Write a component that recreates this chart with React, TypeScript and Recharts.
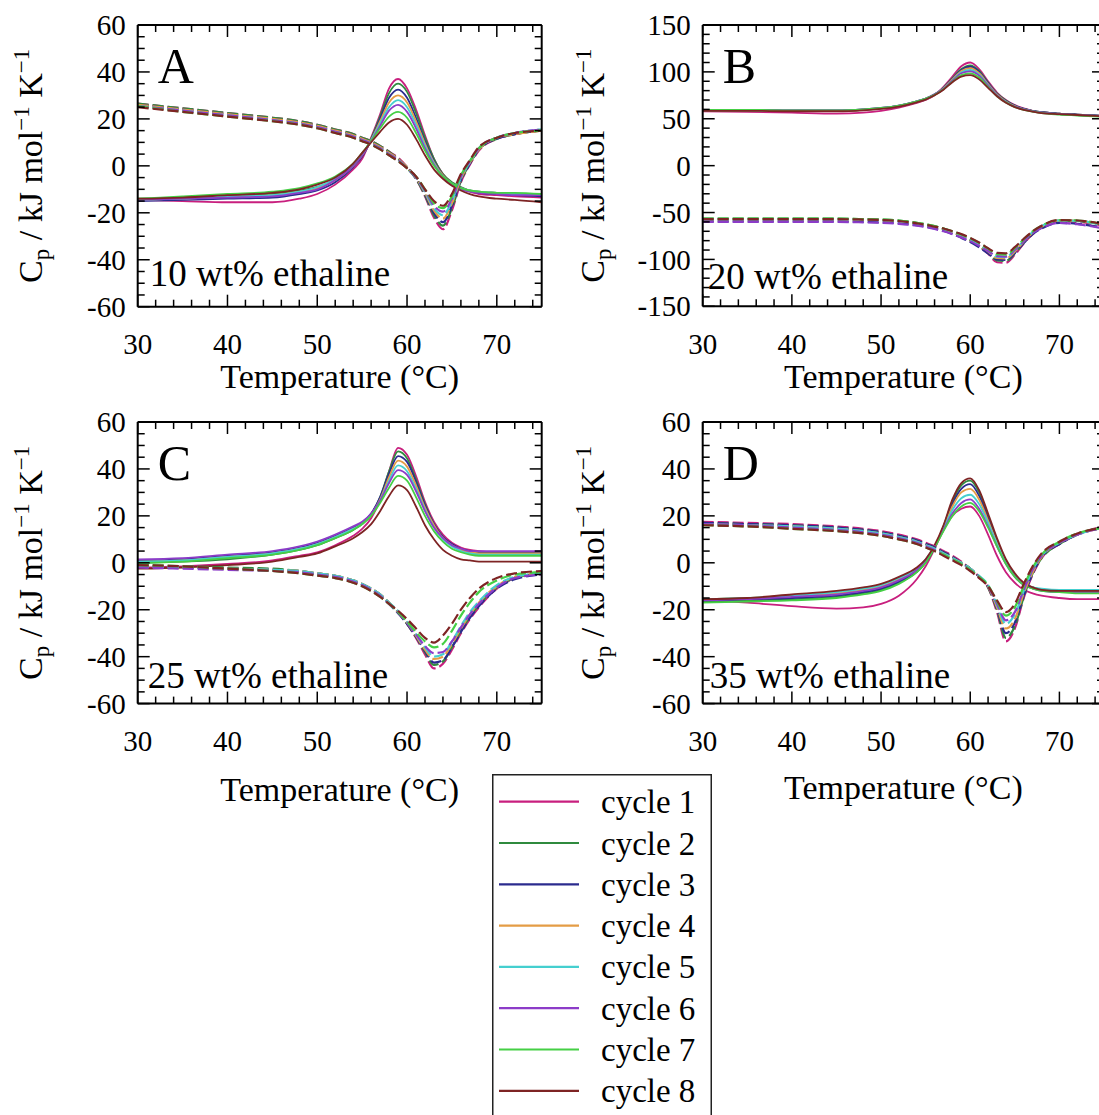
import React from 'react';
import { LineChart, Line, XAxis, YAxis } from 'recharts';

// ---------------- data ----------------
const temperature = [30, 35, 40, 45, 48, 50, 52, 54, 55, 56, 57, 58, 59, 60, 61, 62, 63, 64, 65, 66, 67, 68, 70, 72, 75];

const cycleNames = ['cycle 1', 'cycle 2', 'cycle 3', 'cycle 4', 'cycle 5', 'cycle 6', 'cycle 7', 'cycle 8'];
const cycleColors = ['#C81F7E', '#2F8A3E', '#2B2B8E', '#E49C45', '#45CFCF', '#8C3CC8', '#45CF45', '#7E2424'];

const xTickValues = [30, 32, 34, 36, 38, 40, 42, 44, 46, 48, 50, 52, 54, 56, 58, 60, 62, 64, 66, 68, 70, 72, 74];
const yTicks60 = [-60, -55, -50, -45, -40, -35, -30, -25, -20, -15, -10, -5, 0, 5, 10, 15, 20, 25, 30, 35, 40, 45, 50, 55, 60];
const yTicks150 = [-150, -140, -130, -120, -110, -100, -90, -80, -70, -60, -50, -40, -30, -20, -10, 0, 10, 20, 30, 40, 50, 60, 70, 80, 90, 100, 110, 120, 130, 140, 150];

// Panel A: 10 wt% ethaline
const panelA_heating = [
  [-14.5, -15, -15.5, -15.5, -14, -12, -8, -1.5, 3, 12, 22, 33, 37, 33, 24, 13, 3, -3.5, -7.5, -9.5, -11, -12, -12.5, -13, -13.5],
  [-14, -13.5, -12.5, -12, -10.5, -9, -6, 0, 4.5, 11.5, 21, 31, 35, 31.5, 22.5, 12, 3, -3.5, -7, -9, -10.5, -11, -11.5, -12, -12.5],
  [-15, -14.5, -14, -13.5, -12, -10.5, -7, -0.5, 4, 11, 20, 29, 32.5, 29, 20.5, 10.5, 2, -4, -7.5, -9.5, -10.5, -11.5, -12, -12.5, -13],
  [-14.5, -14, -13, -12.5, -11, -9.5, -6, 0, 4.5, 11, 19, 27, 30, 27, 19, 9.5, 1.5, -4, -7.5, -9.5, -10.5, -11, -11.5, -12, -12.5],
  [-14.5, -14, -13, -12.5, -11, -9, -5.5, 0.5, 5, 11, 18, 25, 28, 25, 17.5, 8.5, 1, -4.5, -7.5, -9.5, -10.5, -11, -11.5, -12, -12],
  [-14.5, -14, -13.5, -13, -11.5, -10, -6, 0, 4.5, 10.5, 17, 23.5, 26, 23, 16, 7.5, 0.5, -4.5, -8, -10, -11, -11.5, -12, -12.5, -12.5],
  [-14, -13, -12, -11, -9.5, -7.5, -4.5, 1, 5.5, 10.5, 16, 21, 23, 20.5, 14, 6.5, 0, -4.5, -7.5, -9.5, -10.5, -11, -11.5, -11.5, -12],
  [-14, -13.5, -12.5, -11.5, -10, -8, -5, 1, 5.5, 10, 14.5, 18.5, 20, 17.5, 11.5, 4.5, -1.5, -5.5, -8.5, -10.5, -12, -13, -14, -14.5, -15.5],
];
const panelA_cooling = [
  [26.5, 24.5, 22.5, 20.5, 19, 17.5, 15.5, 13.5, 12, 10.5, 8.5, 6, 3.5, -0.5, -5.5, -13, -22, -27, -19, -7, 0.5, 6.5, 11.5, 13.5, 15],
  [26.5, 24.5, 22.5, 20.5, 19, 17.5, 15.5, 13.5, 12, 10.5, 8.5, 6, 3, -1, -5.5, -12.5, -21, -25.5, -18, -6.5, 1, 7, 11.5, 13.5, 15],
  [26, 24, 22, 20, 18.5, 17, 15, 13, 11.5, 10, 8, 5.5, 3, -0.5, -5, -12, -20, -24, -17, -6, 1, 7, 11.5, 13.5, 15],
  [26, 24, 22, 20, 18.5, 17, 15, 13, 11.5, 10, 8, 5.5, 3, -0.5, -5, -11.5, -19, -22.5, -16, -5.5, 1.5, 7, 12, 13.5, 15],
  [25.5, 23.5, 21.5, 19.5, 18, 16.5, 14.5, 12.5, 11, 9.5, 7.5, 5, 2.5, -1, -5, -11, -18, -21, -15, -5, 1.5, 7.5, 12, 14, 15.5],
  [25.5, 23.5, 21.5, 19.5, 18, 16.5, 14.5, 12.5, 11, 9.5, 7.5, 5, 2.5, -1, -5, -10.5, -17, -19.5, -14, -4.5, 2, 7.5, 12, 14, 15.5],
  [25.5, 23, 21, 19, 17.5, 16, 14, 12, 10.5, 9, 7, 4.5, 2, -1, -4.5, -10, -16, -18, -13, -4, 2, 7.5, 12, 14, 15],
  [25, 23, 21, 19, 17.5, 16, 14, 12, 10.5, 9, 7, 4.5, 2, -1, -4.5, -10, -15, -17, -12, -3.5, 2.5, 8, 12, 14, 15],
];

// Panel B: 20 wt% ethaline
const panelB_heating = [
  [58, 57.5, 56.5, 55.5, 56.5, 58.5, 62, 67, 70, 75, 84, 95, 106, 110, 103, 90, 78, 70, 64.5, 61, 58.5, 57, 55.5, 54.5, 53],
  [59, 59, 58.5, 58.5, 59.5, 61, 63.5, 68, 71, 75.5, 83, 93, 103, 107, 101, 88.5, 77, 69.5, 64, 60.5, 58.5, 57, 55.5, 54.5, 53],
  [59.5, 59.5, 59, 59, 60, 61.5, 64, 68.5, 71.5, 76, 83, 92.5, 102, 105.5, 100, 88, 76.5, 69, 64, 60.5, 58.5, 57, 55.5, 54.5, 53],
  [59, 59, 58.5, 58.5, 59.5, 61, 63.5, 68, 71, 75.5, 82.5, 92, 101, 104, 98.5, 87, 76, 68.5, 63.5, 60, 58, 56.5, 55, 54, 52.5],
  [59, 59, 58.5, 58.5, 59.5, 61, 63.5, 68, 71, 75.5, 82, 91, 99.5, 102, 97, 86, 75, 68, 63, 60, 58, 56.5, 55, 54, 52.5],
  [59.5, 59.5, 59, 59, 60, 61.5, 64, 68.5, 71.5, 76, 82, 90.5, 98.5, 100.5, 96, 85.5, 75, 68, 63, 60, 58, 56.5, 55, 54, 52.5],
  [59.5, 59.5, 59, 59, 60, 61.5, 64, 68.5, 71.5, 75.5, 81.5, 89.5, 96.5, 98.5, 94, 84, 74, 67.5, 62.5, 59.5, 57.5, 56, 54.5, 53.5, 52],
  [58.5, 58.5, 58, 58, 59, 60.5, 63, 67.5, 70.5, 75, 81, 89, 95, 96.5, 92, 83, 74, 67, 62.5, 59.5, 57.5, 56, 55, 54, 52.5],
];
const panelB_cooling = [
  [-57, -57, -57, -57, -57.5, -58, -59, -61.5, -63, -65, -67.5, -71, -75, -80, -86, -94, -103, -103.5, -95, -83, -73, -66, -59.5, -60, -64],
  [-56.5, -56.5, -56.5, -56.5, -57, -57.5, -58.5, -61, -62.5, -64.5, -67, -70.5, -74.5, -79.5, -85.5, -93, -101, -101.5, -93.5, -82, -72, -65, -58.5, -59, -63],
  [-59.5, -59.5, -59.5, -59.5, -60, -60.5, -61.5, -63.5, -65, -67, -69.5, -73, -77, -81.5, -87, -93.5, -100, -100.5, -93, -82.5, -73, -67, -61, -62, -66.5],
  [-57, -57, -57, -57, -57.5, -58, -59, -61.5, -63, -65, -67.5, -71, -74.5, -79, -84.5, -91.5, -98.5, -99, -91.5, -81, -71.5, -65, -58.5, -59, -63.5],
  [-57, -57, -57, -57, -57.5, -58, -59, -61.5, -63, -65, -67.5, -70.5, -74, -78.5, -84, -90.5, -97, -97.5, -90, -80, -71, -64.5, -58.5, -59, -63.5],
  [-60, -60, -60, -60, -60.5, -61, -62, -64, -65.5, -67.5, -70, -73, -76.5, -80.5, -85.5, -91, -96.5, -97, -90, -80.5, -72, -66.5, -61, -62.5, -67],
  [-56.5, -56.5, -56.5, -56.5, -57, -57.5, -58.5, -61, -62.5, -64.5, -67, -70, -73.5, -77.5, -82.5, -88.5, -94.5, -95, -88, -78.5, -70, -64, -58, -58.5, -62.5],
  [-57, -57, -57, -57, -57.5, -58, -59, -61.5, -63, -65, -67, -70, -73, -77, -82, -88, -93, -93.5, -87, -78, -70, -64, -58, -58.5, -62.5],
];

// Panel C: 25 wt% ethaline
const panelC_heating = [
  [-2, -1.5, -0.5, 1, 3, 4.5, 7.5, 11.5, 14.5, 19, 27, 39, 49, 46, 37, 26, 17.5, 12, 8.5, 6.5, 5.5, 5, 4.5, 4.5, 4.5],
  [0, 0.5, 1.5, 3.5, 5.5, 7.5, 10.5, 14, 16.5, 20.5, 28, 39, 47.5, 44.5, 35.5, 25, 16.5, 11, 7.5, 5.5, 4.5, 4, 3.5, 3.5, 3.5],
  [1, 1.5, 3, 4.5, 6.5, 8.5, 11.5, 15, 17, 21, 28, 38, 45.5, 43, 34.5, 24.5, 16.5, 11, 8, 6, 5, 4.5, 4.5, 4.5, 4.5],
  [0.5, 1, 2.5, 4, 6, 8, 11, 14.5, 16.5, 20.5, 27, 36.5, 43.5, 41, 33, 23.5, 16, 10.5, 7.5, 5.5, 4.5, 4, 4, 4, 4],
  [0.5, 1, 2.5, 4, 6, 8, 11, 14.5, 16.5, 20.5, 26.5, 35, 41.5, 39, 31.5, 22.5, 15, 10, 7, 5, 4, 3.5, 3.5, 3.5, 3.5],
  [1.5, 2, 3.5, 5, 7, 9, 12, 15.5, 17.5, 21, 26.5, 34, 39.5, 37.5, 30.5, 22, 15, 10.5, 7.5, 6, 5, 5, 5, 5, 5],
  [0, 0.5, 2, 3.5, 5.5, 7.5, 10.5, 14, 16.5, 20, 25.5, 32, 37, 35, 28, 20, 13.5, 9, 6, 4.5, 3.5, 3, 3, 3, 3],
  [-2.5, -2, -1, 0.5, 2.5, 4, 7, 10.5, 13, 16.5, 22, 28.5, 33, 31, 24, 16, 10, 5.5, 3, 1.5, 1, 0.5, 0.5, 0.5, 0.5],
];
const panelC_cooling = [
  [-1.5, -2, -2.5, -3, -3.5, -4.5, -5.5, -7.5, -9, -11, -13.5, -17, -21, -26, -32, -39, -45, -43, -37, -30, -24, -19, -11, -6.5, -4.5],
  [-1, -1.5, -2, -2.5, -3.5, -4.5, -5.5, -7.5, -9, -11, -13.5, -17, -21, -26, -31.5, -38, -43.5, -42, -36, -29, -23, -18, -10.5, -6.5, -4.5],
  [-1.5, -2, -2.5, -3, -4, -5, -6, -8, -9.5, -11.5, -14, -17.5, -21.5, -26, -31.5, -37.5, -42.5, -41.5, -36, -29.5, -23.5, -18.5, -11, -7, -5],
  [-1.5, -2, -2.5, -3, -3.5, -4.5, -5.5, -7.5, -9, -11, -13.5, -17, -21, -25.5, -31, -37, -41, -40, -34.5, -28, -22, -17, -10, -6, -4.5],
  [-1.5, -2, -2.5, -3, -3.5, -4.5, -5.5, -7.5, -9, -11, -13.5, -17, -20.5, -25, -30.5, -36, -40, -39, -33.5, -27, -21, -16.5, -9.5, -6, -4.5],
  [-2, -2.5, -3, -3.5, -4, -5, -6, -8, -9.5, -11.5, -14, -17.5, -21, -25.5, -30.5, -35.5, -38.5, -38, -33.5, -27.5, -22, -17.5, -10.5, -6.5, -5],
  [-1, -1.5, -2.5, -3.5, -4.5, -5.5, -6.5, -8.5, -10, -12, -14.5, -17.5, -21, -25, -29.5, -33.5, -36, -34.5, -29, -22.5, -17, -12.5, -7.5, -5, -4],
  [-1, -1.5, -2.5, -3.5, -4.5, -5.5, -6.5, -8.5, -10, -12, -14.5, -17.5, -20.5, -24, -28, -32, -34, -31, -26, -20, -15, -11, -6.5, -4.5, -3.5],
];

// Panel D: 35 wt% ethaline
const panelD_heating = [
  [-16, -17, -18.5, -19.5, -19, -17.5, -14, -7, -1.5, 6, 14, 20, 23, 24, 20, 12, 3, -4, -8.5, -11.5, -13, -14, -15, -15.5, -15.5],
  [-16.5, -16, -15.5, -14.5, -13, -11.5, -8.5, -4, 0, 6.5, 15.5, 26, 33, 35, 30, 20, 9.5, 0.5, -5.5, -9, -10.5, -11.5, -12, -12.5, -12.5],
  [-16, -15.5, -15, -14, -12.5, -11, -8, -3.5, 0.5, 6.5, 15, 25, 31.5, 33.5, 28.5, 19, 9, 0.5, -5.5, -9, -10.5, -11.5, -12, -12, -12],
  [-15.5, -15, -14, -13, -11.5, -10, -7, -3, 1, 7, 15, 24, 30, 31.5, 27, 18, 8.5, 0, -5.5, -9, -10.5, -11.5, -12, -12, -12],
  [-15.5, -15, -14, -12.5, -11, -9.5, -6.5, -2.5, 1.5, 7, 14.5, 22.5, 27.5, 29, 25, 17, 8, 0, -5.5, -9, -10.5, -11, -11.5, -11.5, -11.5],
  [-16, -15.5, -14.5, -13.5, -12, -10.5, -7.5, -3, 1, 7, 14, 21, 25.5, 27, 23, 15.5, 7, -0.5, -6, -9.5, -11, -12, -12.5, -12.5, -12.5],
  [-17, -16.5, -16, -15, -13.5, -12, -9, -4, 0, 6.5, 13.5, 20, 24, 25.5, 22, 15, 7, -0.5, -6, -9.5, -11, -12, -12.5, -13, -13],
  [-15.5, -15, -13.5, -12, -10.5, -9, -6, -2, 1.5, 7.5, 16, 27, 34, 36, 31, 21, 10.5, 1.5, -4.5, -8.5, -10.5, -11.5, -12, -12, -12],
];
const panelD_cooling = [
  [17.5, 17, 16.5, 15.5, 14.5, 13.5, 12, 10, 8.5, 7, 5, 3, 0.5, -2.5, -6, -10.5, -21, -33.5, -28, -15, -5, 2, 8, 12, 15.5],
  [17, 16.5, 16, 15, 14, 13, 11.5, 9.5, 8, 6.5, 4.5, 2.5, 0, -2.5, -6, -10.5, -20, -32, -27, -14.5, -4.5, 2, 8, 12, 15.5],
  [17, 16.5, 16, 15, 14, 13, 11.5, 9.5, 8, 6.5, 4.5, 2.5, 0, -2.5, -6, -10, -19.5, -30, -25.5, -14, -4.5, 2.5, 8, 12, 15],
  [16.5, 16, 15.5, 14.5, 13.5, 12.5, 11, 9, 7.5, 6, 4, 2, 0, -2.5, -6, -10, -19, -28, -24, -13, -4, 2.5, 8.5, 12, 15],
  [16.5, 16, 15.5, 14.5, 13.5, 12.5, 11, 9, 7.5, 6, 4, 2, 0, -2.5, -5.5, -9.5, -18, -26, -22, -12, -3, 3, 8.5, 12, 15],
  [16.5, 16, 15, 14, 13, 12, 10.5, 8.5, 7, 5.5, 3.5, 1.5, -0.5, -3, -6, -10, -17.5, -24.5, -21, -11.5, -3, 3, 8.5, 12, 15],
  [16, 15.5, 14.5, 13.5, 12.5, 11.5, 10, 8, 6.5, 5, 3.5, 1.5, -0.5, -3, -6, -9.5, -16.5, -22.5, -19, -10, -2, 3.5, 9, 12.5, 15],
  [16, 15.5, 14.5, 13.5, 12.5, 11.5, 10, 8, 6.5, 5, 3, 1, -1, -3.5, -6.5, -10, -16, -21, -17.5, -9, -1.5, 4, 9, 12.5, 15],
];

// ---------------- layout / style ----------------
const SERIF = "'Liberation Serif', 'Times New Roman', Times, serif";
const CHART_H = 420;
const AXIS_BAND = 1; // axes need a non-zero band to be drawn

type PanelCfg = {
  letter: string;
  note: string;
  heating: number[][];
  cooling: number[][];
  yDomain: [number, number];
  yTicks: number[];
  yMajor: number;
  left: number;
  top: number;
  width: number;
  plotLeft: number;
  plotRight: number;
  plotTop: number;
  plotBottom: number;
  titleOffset: number;
  noteDx: number;
  noteDy: number;
  yTitleDx: number;
};

const panels: PanelCfg[] = [
  {
    letter: 'A', note: '10 wt% ethaline', heating: panelA_heating, cooling: panelA_cooling,
    yDomain: [-60, 60], yTicks: yTicks60, yMajor: 20,
    left: 0, top: 0, width: 560, plotLeft: 137.7, plotRight: 541.7, plotTop: 25, plotBottom: 306.7,
    titleOffset: 81, noteDx: 12, noteDy: -20.5, yTitleDx: -96,
  },
  {
    letter: 'B', note: '20 wt% ethaline', heating: panelB_heating, cooling: panelB_cooling,
    yDomain: [-150, 150], yTicks: yTicks150, yMajor: 50,
    left: 565, top: 0, width: 545, plotLeft: 702.7, plotRight: 1104, plotTop: 25, plotBottom: 306.3,
    titleOffset: 81.5, noteDx: 5, noteDy: -17, yTitleDx: -99,
  },
  {
    letter: 'C', note: '25 wt% ethaline', heating: panelC_heating, cooling: panelC_cooling,
    yDomain: [-60, 60], yTicks: yTicks60, yMajor: 20,
    left: 0, top: 396.7, width: 560, plotLeft: 137.7, plotRight: 541.7, plotTop: 421.7, plotBottom: 703.3,
    titleOffset: 97, noteDx: 10, noteDy: -15.5, yTitleDx: -96,
  },
  {
    letter: 'D', note: '35 wt% ethaline', heating: panelD_heating, cooling: panelD_cooling,
    yDomain: [-60, 60], yTicks: yTicks60, yMajor: 20,
    left: 565, top: 396.7, width: 545, plotLeft: 702.7, plotRight: 1104, plotTop: 421.7, plotBottom: 703.3,
    titleOffset: 95, noteDx: 7, noteDy: -16, yTitleDx: -99,
  },
];

function buildRows(heating: number[][], cooling: number[][]) {
  return temperature.map((t, i) => {
    const row: Record<string, number> = { T: t };
    heating.forEach((s, k) => { row['h' + k] = s[i]; });
    cooling.forEach((s, k) => { row['c' + k] = s[i]; });
    return row;
  });
}

const MAJOR_LEN = 12;
const MINOR_LEN = 7;

function Panel({ cfg }: { cfg: PanelCfg }) {
  const data = buildRows(cfg.heating, cfg.cooling);
  const mLeft = cfg.plotLeft - cfg.left;
  const mTop = cfg.plotTop - cfg.top;
  const mRight = cfg.left + cfg.width - cfg.plotRight;
  const mBottom = cfg.top + CHART_H - cfg.plotBottom;
  const plotH = cfg.plotBottom - cfg.plotTop;
  const plotW = cfg.plotRight - cfg.plotLeft;
  const axisLine = { stroke: '#000', strokeWidth: 2 };

  const bottomTick = (p: any) => {
    const v = p.payload.value;
    const major = v % 10 === 0;
    return (
      <g>
        <line x1={p.x} x2={p.x} y1={p.y} y2={p.y - (major ? MAJOR_LEN : MINOR_LEN)} stroke="#000" strokeWidth={1.5} />
        {major && (
          <text x={p.x} y={p.y + 47.5} textAnchor="middle" fontSize={29} fontFamily={SERIF} fill="#000">{v}</text>
        )}
      </g>
    );
  };
  const topTick = (p: any) => {
    const v = p.payload.value;
    const major = v % 10 === 0;
    return <line x1={p.x} x2={p.x} y1={p.y} y2={p.y + (major ? MAJOR_LEN : MINOR_LEN)} stroke="#000" strokeWidth={1.5} />;
  };
  const leftTick = (p: any) => {
    const v = p.payload.value;
    const major = v % cfg.yMajor === 0;
    return (
      <g>
        <line x1={p.x} x2={p.x + (major ? MAJOR_LEN : MINOR_LEN)} y1={p.y} y2={p.y} stroke="#000" strokeWidth={1.5} />
        {major && (
          <text x={p.x - 12} y={p.y} dy="0.35em" textAnchor="end" fontSize={29} fontFamily={SERIF} fill="#000">{v}</text>
        )}
      </g>
    );
  };
  const rightTick = (p: any) => {
    const v = p.payload.value;
    const major = v % cfg.yMajor === 0;
    return <line x1={p.x} x2={p.x - (major ? MAJOR_LEN : MINOR_LEN)} y1={p.y} y2={p.y} stroke="#000" strokeWidth={1.5} />;
  };

  const yTitleX = mLeft + cfg.yTitleDx;
  const yTitleY = mTop + plotH / 2;

  const leftLabel = () => (
    <g>
      <text
        x={yTitleX}
        y={yTitleY}
        transform={`rotate(-90, ${yTitleX}, ${yTitleY})`}
        textAnchor="middle"
        fontSize={34}
        fontFamily={SERIF}
        fill="#000"
      >
        <tspan>C</tspan>
        <tspan fontSize={23} dy={7}>p</tspan>
        <tspan dy={-7}> / kJ mol</tspan>
        <tspan fontSize={23} dy={-13}>{'\u22121'}</tspan>
        <tspan dy={13}> K</tspan>
        <tspan fontSize={23} dy={-13}>{'\u22121'}</tspan>
      </text>
      <text x={mLeft + 20} y={mTop + 58} fontSize={50} fontFamily={SERIF} fill="#000">{cfg.letter}</text>
      <text x={mLeft + cfg.noteDx} y={mTop + plotH + cfg.noteDy} fontSize={37} fontFamily={SERIF} fill="#000">{cfg.note}</text>
    </g>
  );

  const bottomLabel = () => (
    <text x={mLeft + plotW / 2} y={mTop + plotH + cfg.titleOffset} textAnchor="middle" fontSize={34} fontFamily={SERIF} fill="#000">
      Temperature (°C)
    </text>
  );

  return (
    <div style={{ position: 'absolute', left: cfg.left, top: cfg.top }}>
      <LineChart
        width={cfg.width}
        height={CHART_H}
        data={data}
        margin={{ left: mLeft - AXIS_BAND, top: mTop - AXIS_BAND, right: mRight - AXIS_BAND, bottom: mBottom - AXIS_BAND }}
      >
        <XAxis
          dataKey="T" type="number" domain={[30, 75]} allowDataOverflow ticks={xTickValues} interval={0}
          tickSize={0} tickMargin={0} height={AXIS_BAND} axisLine={axisLine} tickLine={false} tick={bottomTick}
          label={bottomLabel}
        />
        <XAxis
          xAxisId="top" orientation="top" dataKey="T" type="number" domain={[30, 75]} allowDataOverflow
          ticks={xTickValues} interval={0} tickSize={0} tickMargin={0} height={AXIS_BAND} axisLine={axisLine}
          tickLine={false} tick={topTick}
        />
        <YAxis
          type="number" domain={cfg.yDomain} allowDataOverflow ticks={cfg.yTicks} interval={0}
          tickSize={0} tickMargin={0} width={AXIS_BAND} axisLine={axisLine} tickLine={false} tick={leftTick}
          label={leftLabel}
        />
        <YAxis
          yAxisId="right" orientation="right" type="number" domain={cfg.yDomain} allowDataOverflow
          ticks={cfg.yTicks} interval={0} tickSize={0} tickMargin={0} width={AXIS_BAND} axisLine={axisLine}
          tickLine={false} tick={rightTick}
        />
        {cfg.heating.map((_, k) => (
          <Line
            key={'h' + k} dataKey={'h' + k} type="monotone" stroke={cycleColors[k]} strokeWidth={1.8}
            dot={false} activeDot={false} isAnimationActive={false}
          />
        ))}
        {cfg.cooling.map((_, k) => (
          <Line
            key={'c' + k} dataKey={'c' + k} type="monotone" stroke={cycleColors[k]} strokeWidth={2.2}
            strokeDasharray="11 4" dot={false} activeDot={false} isAnimationActive={false}
          />
        ))}
      </LineChart>
    </div>
  );
}

function LegendBox() {
  const rowGap = 41.3;
  return (
    <svg
      style={{ position: 'absolute', left: 491.7, top: 774 }}
      width={220}
      height={345}
    >
      <rect x={0.75} y={0.75} width={218.5} height={400} fill="#fff" stroke="#222" strokeWidth={1.5} />
      {cycleNames.map((name, i) => {
        const y = 27.7 + i * rowGap;
        return (
          <g key={name}>
            <line x1={7} x2={87} y1={y} y2={y} stroke={cycleColors[i]} strokeWidth={2.2} />
            <text x={109} y={y + 11.5} fontSize={33} fontFamily={SERIF} fill="#000">{name}</text>
          </g>
        );
      })}
    </svg>
  );
}

export default function App() {
  return (
    <div
      style={{
        position: 'absolute', left: 0, top: 0, width: 1099, height: 1115,
        overflow: 'hidden', background: '#fff',
      }}
    >
      {panels.map((cfg) => (
        <Panel key={cfg.letter} cfg={cfg} />
      ))}
      <LegendBox />
    </div>
  );
}
